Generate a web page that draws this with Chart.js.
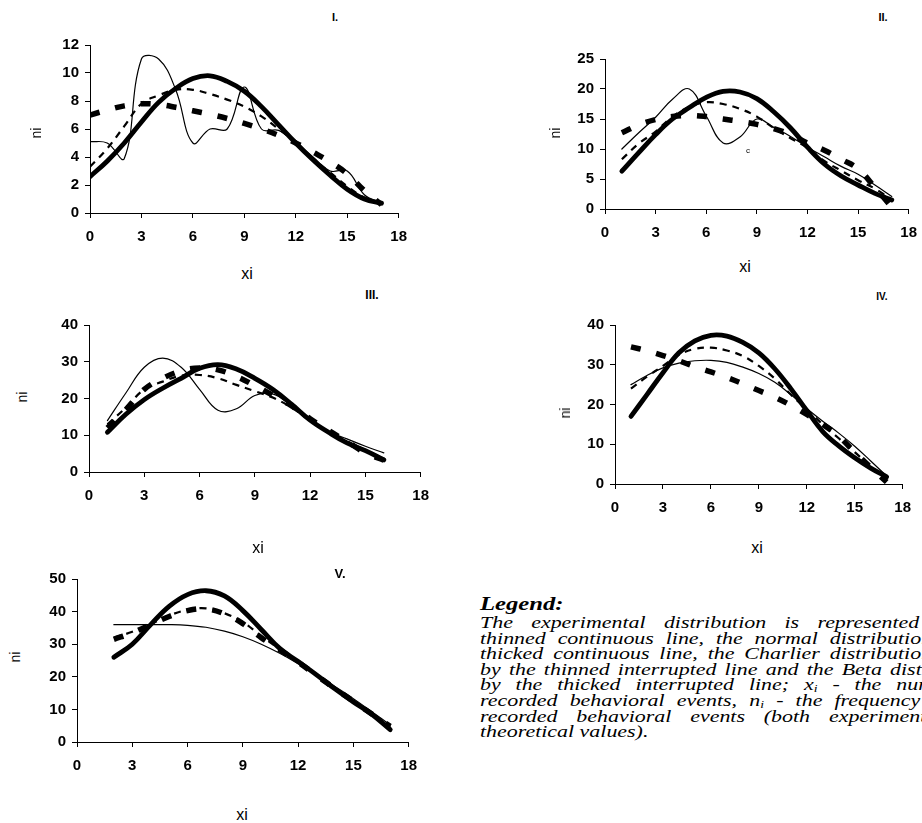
<!DOCTYPE html>
<html>
<head>
<meta charset="utf-8">
<script src="https://cdn.jsdelivr.net/npm/chart.js@4.4.1/dist/chart.umd.min.js"></script>
<style>
  html, body { margin: 0; padding: 0; background: #fff; width: 922px; height: 823px; overflow: hidden; }
  body { position: relative; font-family: "Liberation Sans", Arial, sans-serif; color: #000; }
  canvas { position: absolute; }
  .lbl { position: absolute; transform: translate(-50%, -50%); white-space: nowrap; }
  .ttl { font-weight: bold; }
  .ni { transform: translate(-50%, -50%) rotate(-90deg); font-size: 14px; }
  .xi { font-size: 16px; }
  #legend { position: absolute; left: 480px; top: 594px; transform: scaleX(1.37); transform-origin: 0 0;
            font-family: "Liberation Serif", "Times New Roman", serif; font-style: italic; }
  #legend .head { font-weight: bold; font-size: 18px; line-height: 21px; height: 21px; }
  #legend .ln { font-size: 16px; line-height: 15.6px; height: 15.6px; text-align: justify; text-align-last: justify; }
  #legend .ln.last { text-align-last: left; }
  #legend sub { font-size: 10px; vertical-align: -2px; line-height: 0; }
</style>
</head>
<body>
<canvas id="c1"></canvas>
<canvas id="c2"></canvas>
<canvas id="c3"></canvas>
<canvas id="c4"></canvas>
<canvas id="c5"></canvas>

<div class="lbl ttl" style="left:335px;top:17px;font-size:11px">I.</div>
<div class="lbl ttl" style="left:883px;top:17px;font-size:11px">II.</div>
<div class="lbl ttl" style="left:372px;top:295px;font-size:12px">III.</div>
<div class="lbl ttl" style="left:882px;top:296px;font-size:10px">IV.</div>
<div class="lbl ttl" style="left:340px;top:573px;font-size:13px">V.</div>

<div class="lbl ni" style="left:36px;top:133px">ni</div>
<div class="lbl ni" style="left:555px;top:133px">ni</div>
<div class="lbl ni" style="left:22px;top:397px">ni</div>
<div class="lbl ni" style="left:565px;top:413px">ni</div>
<div class="lbl ni" style="left:15px;top:657px">ni</div>

<div class="lbl xi" style="left:247px;top:274px">xi</div>
<div class="lbl xi" style="left:745px;top:267px">xi</div>
<div class="lbl xi" style="left:258px;top:548px">xi</div>
<div class="lbl xi" style="left:757px;top:548px">xi</div>
<div class="lbl xi" style="left:242px;top:815px">xi</div>

<div class="lbl" style="left:748px;top:150px;font-size:8px">c</div>

<div id="legend">
  <div class="head">Legend:</div>
  <div class="ln" style="width:382px">The experimental distribution is represented by the</div>
  <div class="ln" style="width:382px">thinned continuous line, the normal distribution by the</div>
  <div class="ln" style="width:330px">thicked continuous line, the Charlier distribution</div>
  <div class="ln" style="width:374px">by the thinned interrupted line and the Beta distribution</div>
  <div class="ln" style="width:376px">by the thicked interrupted line; x<sub>i</sub> - the number of</div>
  <div class="ln" style="width:371px">recorded behavioral events, n<sub>i</sub> - the frequency of the</div>
  <div class="ln" style="width:376px">recorded behavioral events (both experimental and</div>
  <div class="ln last" style="width:376px">theoretical values).</div>
</div>

<script>
// tick labels
const xTicks = [0, 3, 6, 9, 12, 15, 18];
const yTicksI = [0, 2, 4, 6, 8, 10, 12];
const yTicksII = [0, 5, 10, 15, 20, 25];
const yTicksIII = [0, 10, 20, 30, 40];
const yTicksIV = [0, 10, 20, 30, 40];
const yTicksV = [0, 10, 20, 30, 40, 50];

// panel I
const xI = [0, 1, 2, 3, 4, 5, 6, 7, 8, 9, 10, 11, 12, 13, 14, 15, 16, 17];
const expI = [5.1, 5.0, 3.9, 11.0, 11.0, 8.8, 5.0, 6.0, 6.0, 9.0, 6.0, 5.9, 5.0, 4.0, 3.0, 3.0, 1.3, 0.7];
const normI = [2.6, 3.7, 5.0, 6.5, 7.9, 8.9, 9.6, 9.8, 9.4, 8.7, 7.6, 6.3, 5.0, 3.8, 2.7, 1.7, 1.0, 0.7];
const charI = [3.3, 4.6, 6.2, 7.8, 8.4, 8.8, 8.8, 8.5, 8.1, 7.6, 6.9, 6.0, 5.0, 3.9, 2.9, 1.9, 1.1, 0.7];
const betaI = [7.0, 7.35, 7.65, 7.8, 7.75, 7.55, 7.3, 7.05, 6.75, 6.4, 6.0, 5.55, 5.0, 4.35, 3.65, 2.8, 1.6, 0.6];

// panel II
const xII = [1, 2, 3, 4, 5, 6, 7, 8, 9, 10, 11, 12, 13, 14, 15, 16, 17];
const expII = [10.0, 12.7, 15.3, 18.3, 20.0, 15.5, 11.0, 12.0, 15.0, 13.6, 12.1, 10.3, 8.7, 7.1, 5.8, 4.0, 2.1];
const normII = [6.3, 9.4, 12.4, 15.0, 16.9, 18.6, 19.6, 19.5, 18.4, 16.2, 13.5, 10.3, 7.5, 5.5, 4.0, 2.6, 1.5];
const charII = [8.3, 10.9, 12.9, 15.4, 17.0, 17.8, 17.5, 16.7, 15.4, 13.5, 11.8, 10.2, 8.0, 6.4, 4.8, 3.4, 1.6];
const betaII = [12.7, 14.0, 14.9, 15.4, 15.6, 15.4, 15.0, 14.6, 14.1, 13.4, 12.4, 11.0, 9.8, 8.3, 6.7, 3.6, 0.3];

// panel III
const xIII = [1, 2, 3, 4, 5, 6, 7, 8, 9, 10, 11, 12, 13, 14, 15, 16];
const expIII = [14.0, 21.5, 28.5, 31.0, 28.5, 22.5, 16.8, 17.2, 20.8, 21.2, 18.0, 14.3, 11.0, 9.0, 7.0, 5.2];
const normIII = [10.8, 15.7, 19.7, 22.8, 25.5, 28.2, 29.2, 28.0, 25.5, 22.4, 18.4, 14.1, 10.8, 7.9, 5.8, 3.3];
const charIII = [13.0, 17.5, 22.5, 24.6, 26.2, 26.4, 25.5, 23.7, 22.0, 20.2, 17.5, 14.0, 10.8, 8.4, 6.0, 3.6];
const betaIII = [12.0, 17.0, 22.5, 25.5, 27.5, 28.3, 27.8, 26.0, 23.5, 20.8, 18.0, 14.5, 11.3, 8.3, 5.2, 3.2];

// panel IV
const xIV = [1, 2, 3, 4, 5, 6, 7, 8, 9, 10, 11, 12, 13, 14, 15, 16, 17];
const expIV = [25.0, 27.3, 29.2, 30.4, 31.0, 31.1, 30.6, 29.4, 27.8, 25.6, 22.5, 19.0, 15.8, 12.8, 9.5, 5.8, 2.0];
const normIV = [17.0, 22.5, 28.0, 33.0, 36.0, 37.4, 37.2, 35.6, 33.0, 29.0, 24.0, 18.5, 13.2, 9.6, 6.6, 4.0, 1.8];
const charIV = [24.0, 27.0, 29.7, 32.5, 34.0, 34.3, 33.6, 32.2, 29.7, 26.5, 22.5, 18.8, 15.0, 11.5, 8.0, 4.5, 1.5];
const betaIV = [34.5, 33.5, 32.3, 31.0, 29.5, 28.2, 26.8, 25.2, 23.5, 21.8, 19.8, 17.5, 15.0, 12.0, 8.0, 4.2, 0.5];

// panel V
const xV = [2, 3, 4, 5, 6, 7, 8, 9, 10, 11, 12, 13, 14, 15, 16, 17];
const expV = [36.0, 36.0, 36.0, 36.0, 35.8, 35.2, 34.0, 32.3, 30.0, 27.2, 24.0, 20.5, 17.0, 13.3, 9.3, 5.2];
const normV = [26.0, 30.0, 36.0, 41.6, 45.2, 46.4, 44.8, 40.3, 34.5, 28.7, 24.7, 20.6, 16.3, 12.3, 8.5, 3.8];
const charV = [32.0, 33.8, 36.2, 38.8, 40.5, 41.0, 39.5, 36.8, 32.5, 28.5, 24.6, 20.5, 16.5, 12.6, 8.8, 4.5];
const betaV = [31.5, 33.5, 36.0, 38.5, 40.3, 40.8, 39.3, 36.3, 32.0, 28.3, 24.5, 20.4, 16.4, 12.5, 8.6, 4.8];

const tickFont = { family: '"Liberation Sans", Arial, sans-serif', size: 15, weight: 'bold' };

function pts(xs, ys) {
  return xs.map((x, i) => ({ x: x, y: ys[i] }));
}

// box = plot area in page pixels
function drawPanel(id, box, xs, exp, norm, charl, beta, yTicks) {
  const yW = 50, xH = 38, padT = 12, padR = 14;
  const cv = document.getElementById(id);
  const w = box.right - box.left + yW + padR;
  const h = box.bottom - box.top + padT + xH;
  cv.width = w;
  cv.height = h;
  cv.style.width = w + 'px';
  cv.style.height = h + 'px';
  cv.style.left = (box.left - yW) + 'px';
  cv.style.top = (box.top - padT) + 'px';

  const axis = (ticks, fitFn, pad) => ({
    type: 'linear',
    min: ticks[0],
    max: ticks[ticks.length - 1],
    afterBuildTicks: s => { s.ticks = ticks.map(v => ({ value: v })); },
    afterFit: fitFn,
    grid: { drawOnChartArea: false, color: '#000', tickLength: 5, lineWidth: 1 },
    border: { color: '#000', width: 1 },
    ticks: { font: tickFont, color: '#000', padding: pad, maxRotation: 0, autoSkip: false }
  });

  return new Chart(cv, {
    type: 'line',
    data: {
      datasets: [
        { data: pts(xs, exp), borderWidth: 1.2, borderCapStyle: 'round' },
        { data: pts(xs, charl), borderWidth: 2.2, borderDash: [7, 6] },
        { data: pts(xs, norm), borderWidth: 4.8, borderCapStyle: 'round', borderJoinStyle: 'round' },
        { data: pts(xs, beta), borderWidth: 5.5, borderDash: [10, 16] }
      ]
    },
    options: {
      responsive: false,
      animation: false,
      layout: { padding: { top: padT, right: padR, left: 0, bottom: 0 } },
      plugins: { legend: { display: false }, tooltip: { enabled: false } },
      elements: {
        point: { radius: 0 },
        line: { tension: 0.4, borderColor: '#000', fill: false }
      },
      scales: {
        x: axis(xTicks, s => { s.height = xH; }, 10),
        y: axis(yTicks, s => { s.width = yW; }, 6)
      }
    }
  });
}

drawPanel('c1', { left: 90, right: 403, top: 42, bottom: 213 }, xI, expI, normI, charI, betaI, yTicksI);
drawPanel('c2', { left: 605, right: 913, top: 56, bottom: 209 }, xII, expII, normII, charII, betaII, yTicksII);
drawPanel('c3', { left: 89, right: 425, top: 322, bottom: 472 }, xIII, expIII, normIII, charIII, betaIII, yTicksIII);
drawPanel('c4', { left: 615, right: 907, top: 322, bottom: 484 }, xIV, expIV, normIV, charIV, betaIV, yTicksIV);
drawPanel('c5', { left: 77, right: 413, top: 576, bottom: 742 }, xV, expV, normV, charV, betaV, yTicksV);
</script>
</body>
</html>
